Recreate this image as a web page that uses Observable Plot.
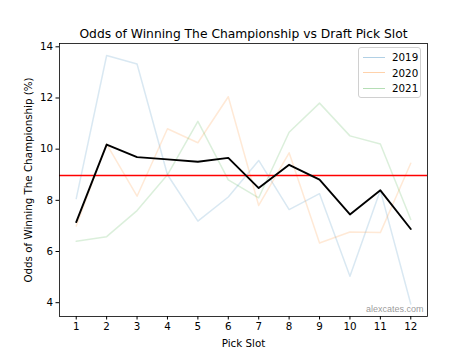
<!DOCTYPE html>
<html>
<head>
<meta charset="utf-8">
<script src="https://cdn.jsdelivr.net/npm/d3@7"></script>
<script src="https://cdn.jsdelivr.net/npm/@observablehq/plot@0.6"></script>
<style>
  body { margin: 0; background: white; }
  #wrap { position: relative; width: 474px; height: 355px; font-family: "DejaVu Sans", sans-serif; }
  #legend { position: absolute; left: 358px; top: 47px; width: 63px; height: 51px;
    border: 1px solid #d0d0d0; border-radius: 3px; background: rgba(255,255,255,0.8); box-sizing: border-box; }
  .row { position: absolute; left: 0; height: 14px; display: flex; align-items: center; font-size: 10.3px; color: #000; }
  .sw { width: 22px; height: 0; border-top: 1.5px solid; margin-left: 4px; margin-right: 7px; }
</style>
</head>
<body>
<div id="wrap"></div>
<script>
const slots = [1, 2, 3, 4, 5, 6, 7, 8, 9, 10, 11, 12];
const years = ["2019", "2020", "2021"];
const colors = ["#1f77b4", "#ff7f0e", "#2ca02c"];
const odds2019 = [8.07, 13.66, 13.33, 9.0, 7.19, 8.13, 9.56, 7.64, 8.26, 5.03, 8.39, 3.95];
const odds2020 = [7.0, 10.2, 8.16, 10.8, 10.25, 12.05, 7.8, 9.86, 6.33, 6.76, 6.74, 9.45];
const odds2021 = [6.4, 6.58, 7.6, 9.0, 11.09, 8.8, 8.1, 10.66, 11.8, 10.52, 10.2, 7.25];
const oddsAvg = [7.15, 10.18, 9.69, 9.6, 9.51, 9.66, 8.48, 9.39, 8.81, 7.45, 8.39, 6.88];
const refLine = [8.97];
const yTicks = [4, 6, 8, 10, 12, 14];

const series = [odds2019, odds2020, odds2021];
const rows = [];
series.forEach((arr, i) => arr.forEach((v, j) => rows.push({year: years[i], slot: slots[j], odds: v})));
const avgRows = slots.map((s, j) => ({slot: s, odds: oddsAvg[j]}));

const chart = Plot.plot({
  width: 474,
  height: 355,
  marginLeft: 59,
  marginRight: 47,
  marginTop: 43,
  marginBottom: 39,
  style: {fontFamily: "DejaVu Sans", fontSize: "10.3px", color: "black", background: "white"},
  x: {domain: [0.45, 12.55]},
  y: {domain: [3.46, 14.13]},
  color: {domain: years, range: colors},
  marks: [
    Plot.lineY(rows, {x: "slot", y: "odds", z: "year", stroke: "year", strokeOpacity: 0.17, strokeWidth: 1.5}),
    Plot.ruleY(refLine, {stroke: "#ff0000", strokeWidth: 1.5}),
    Plot.lineY(avgRows, {x: "slot", y: "odds", stroke: "black", strokeWidth: 1.9}),
    Plot.frame({stroke: "black", strokeWidth: 0.8}),
    Plot.axisX(slots, {tickSize: 3.5, tickPadding: 3, label: null, fontSize: 10.3, tickFormat: d => String(d)}),
    Plot.axisY(yTicks, {tickSize: 3.5, tickPadding: 3, label: null, fontSize: 10.3}),
    Plot.text(["Pick Slot"], {frameAnchor: "bottom", dy: 27, lineAnchor: "middle", fontSize: 10.3}),
    Plot.text(["Odds of Winning The Championship (%)"], {frameAnchor: "left", dx: -31, rotate: -90, textAnchor: "middle", lineAnchor: "middle", fontSize: 10.3}),
    Plot.text(["Odds of Winning The Championship vs Draft Pick Slot"], {frameAnchor: "top", dy: -6, lineAnchor: "bottom", fontSize: 12.3}),
    Plot.text(["alexcates.com"], {frameAnchor: "bottom-right", dx: -4, dy: -5, lineAnchor: "bottom", textAnchor: "end", fontSize: 9, fontFamily: "Liberation Sans", fill: "#808080", fillOpacity: 0.8})
  ]
});
const wrap = document.getElementById("wrap");
wrap.appendChild(chart);

const legend = document.createElement("div");
legend.id = "legend";
years.forEach((yr, i) => {
  const r = document.createElement("div");
  r.className = "row";
  r.style.top = (2 + i * 15.7) + "px";
  const sw = document.createElement("div");
  sw.className = "sw";
  sw.style.borderTopColor = colors[i];
  sw.style.opacity = 0.35;
  const t = document.createElement("span");
  t.textContent = yr;
  r.appendChild(sw);
  r.appendChild(t);
  legend.appendChild(r);
});
wrap.appendChild(legend);
</script>
</body>
</html>
